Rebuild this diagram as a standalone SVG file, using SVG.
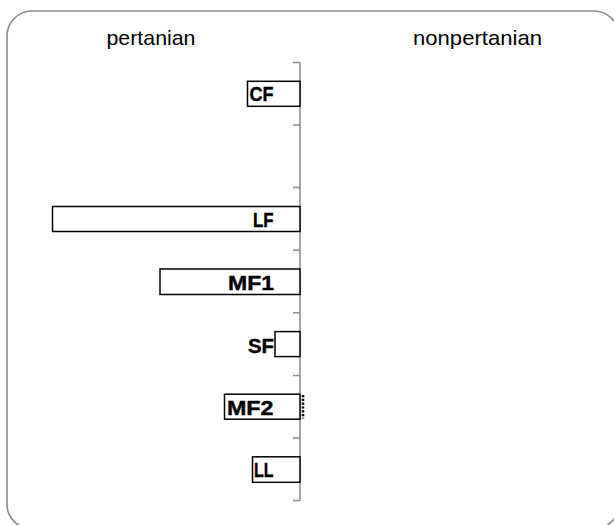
<svg xmlns="http://www.w3.org/2000/svg" width="614" height="525" viewBox="0 0 614 525">
<style>
.frame{fill:#fff;stroke:#8a8a8a;stroke-width:1.6}
.axis{fill:none;stroke:#8c8c8c;stroke-width:1.5}
.bar{fill:#fff;stroke:#000;stroke-width:1.5}
.hdr{font-family:"Liberation Sans",Arial,sans-serif;font-size:21px;fill:#000}
.lbl{font-family:"Liberation Sans",Arial,sans-serif;font-size:20px;font-weight:bold;fill:#000;stroke:#000;stroke-width:0.4;text-anchor:end}
</style>
<rect class="frame" x="7" y="11" width="612" height="518" rx="25" ry="25"/>
<text class="hdr" x="106.5" y="45" textLength="89" lengthAdjust="spacingAndGlyphs">pertanian</text>
<text class="hdr" x="413" y="45" textLength="129" lengthAdjust="spacingAndGlyphs">nonpertanian</text>
<g id="axis">
<path class="axis" d="M300,62.5V500.5M293,62.5H300M293,125.1H300M293,187.6H300M293,250.2H300M293,312.8H300M293,375.4H300M293,437.9H300M293,500.5H300"/>
</g>
<g id="CF">
<rect class="bar" x="247.5" y="81.3" width="52.5" height="25"/>
<text class="lbl" x="273.5" y="101" textLength="24" lengthAdjust="spacingAndGlyphs">CF</text>
</g>
<g id="LF">
<rect class="bar" x="52.5" y="206.5" width="247.5" height="25"/>
<text class="lbl" x="273.5" y="227" textLength="20.5" lengthAdjust="spacingAndGlyphs">LF</text>
</g>
<g id="MF1">
<rect class="bar" x="160" y="269" width="140" height="25.5"/>
<text class="lbl" x="274" y="289.5" textLength="46" lengthAdjust="spacingAndGlyphs">MF1</text>
</g>
<g id="SF">
<rect class="bar" x="275" y="331.6" width="25" height="25"/>
<text class="lbl" x="274" y="352.5" textLength="26" lengthAdjust="spacingAndGlyphs">SF</text>
</g>
<g id="MF2">
<rect class="bar" x="224.5" y="394.2" width="75.5" height="25"/>
<text class="lbl" x="273.5" y="415" textLength="46.5" lengthAdjust="spacingAndGlyphs">MF2</text>
<path d="M303,395V418.5" fill="none" stroke="#000" stroke-width="2.5" stroke-dasharray="2.2,1.6"/>
</g>
<g id="LL">
<rect class="bar" x="252.5" y="456.8" width="47.5" height="25.5"/>
<text class="lbl" x="273.5" y="477" textLength="19.5" lengthAdjust="spacingAndGlyphs">LL</text>
</g>
</svg>
